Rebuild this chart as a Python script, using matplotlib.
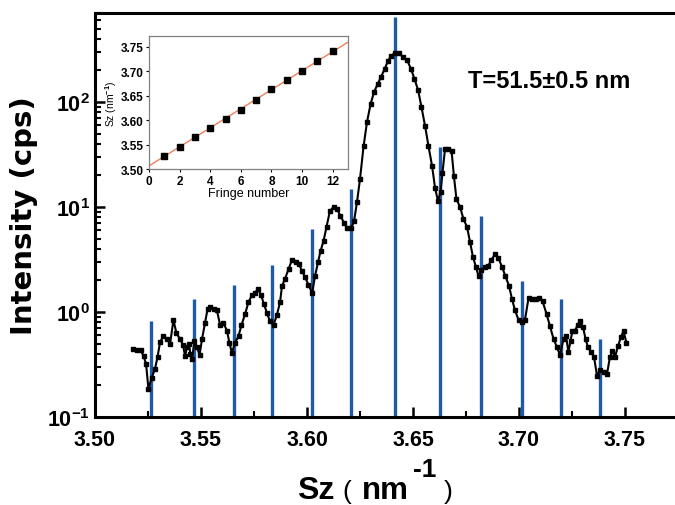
import numpy as np
import matplotlib
matplotlib.use("Agg")
import matplotlib.pyplot as plt
from matplotlib.ticker import MultipleLocator, FuncFormatter, LogLocator, NullFormatter


# measured scan (Sz in nm^-1, intensity in cps)
sz = [3.5179, 3.5198, 3.5215, 3.5229, 3.5241, 3.5252, 3.5267, 3.5283, 3.5295, 3.5307,
      3.5323, 3.5340, 3.5354, 3.5370, 3.5384, 3.5401, 3.5415, 3.5425, 3.5434, 3.5443,
      3.5450, 3.5458, 3.5469, 3.5481, 3.5493, 3.5505, 3.5519, 3.5531, 3.5542, 3.5559,
      3.5575, 3.5590, 3.5606, 3.5623, 3.5634, 3.5646, 3.5660, 3.5677, 3.5691, 3.5708,
      3.5724, 3.5741, 3.5755, 3.5769, 3.5783, 3.5797, 3.5811, 3.5825, 3.5842, 3.5858,
      3.5873, 3.5882, 3.5896, 3.5913, 3.5929, 3.5946, 3.5962, 3.5976, 3.5991, 3.6007,
      3.6024, 3.6038, 3.6052, 3.6064, 3.6078, 3.6092, 3.6108, 3.6125, 3.6142, 3.6158,
      3.6175, 3.6191, 3.6208, 3.6222, 3.6236, 3.6250, 3.6267, 3.6283, 3.6300, 3.6316,
      3.6333, 3.6349, 3.6366, 3.6382, 3.6396, 3.6415, 3.6434, 3.6453, 3.6472, 3.6491,
      3.6507, 3.6524, 3.6540, 3.6557, 3.6573, 3.6590, 3.6604, 3.6618, 3.6630, 3.6639,
      3.6651, 3.6667, 3.6682, 3.6693, 3.6705, 3.6722, 3.6738, 3.6755, 3.6769, 3.6783,
      3.6797, 3.6809, 3.6823, 3.6840, 3.6854, 3.6870, 3.6887, 3.6903, 3.6920, 3.6936,
      3.6953, 3.6967, 3.6981, 3.6998, 3.7014, 3.7028, 3.7045, 3.7061, 3.7078, 3.7094,
      3.7111, 3.7130, 3.7146, 3.7163, 3.7179, 3.7193, 3.7210, 3.7222, 3.7233, 3.7243,
      3.7252, 3.7264, 3.7276, 3.7288, 3.7302, 3.7314, 3.7325, 3.7340, 3.7354, 3.7368,
      3.7382, 3.7399, 3.7415, 3.7429, 3.7441, 3.7453, 3.7467, 3.7481, 3.7493, 3.7507]

intensity = [0.440, 0.435, 0.435, 0.381, 0.320, 0.185, 0.235, 0.287, 0.373, 0.518,
             0.591, 0.553, 0.496, 0.839, 0.631, 0.553, 0.485, 0.381, 0.464, 0.496,
             0.398, 0.357, 0.530, 0.464, 0.389, 0.553, 0.786, 1.07, 1.12, 1.07,
             1.04, 0.752, 0.786, 0.659, 0.507, 0.407, 0.507, 0.591, 0.752, 0.957,
             1.245, 1.45, 1.52, 1.66, 1.45, 1.19, 0.978, 0.821, 0.752, 0.936,
             1.245, 1.77, 2.06, 2.57, 3.13, 2.99, 2.87, 2.46, 2.15, 1.81,
             1.52, 2.20, 2.99, 3.81, 4.75, 6.45, 9.16, 10.0, 9.57, 8.21,
             7.04, 6.31, 6.31, 7.36, 11.2, 18.5, 38.1, 64.5, 95.7, 124,
             148, 173, 206, 246, 274, 293, 293, 268, 251, 206,
             166, 130, 89.6, 59.1, 38.1, 24.6, 15.2, 11.4, 13.9, 21.1,
             35.7, 35.7, 34.1, 19.7, 11.9, 10.0, 7.69, 6.45, 4.64, 3.34,
             2.68, 2.20, 2.51, 2.68, 2.74, 3.13, 3.57, 3.27, 2.68, 2.20,
             1.77, 1.33, 1.04, 0.839, 0.803, 0.839, 1.36, 1.33, 1.33, 1.36,
             1.27, 0.957, 0.736, 0.553, 0.464, 0.389, 0.553, 0.591, 0.416, 0.530,
             0.659, 0.659, 0.752, 0.821, 0.720, 0.553, 0.464, 0.416, 0.373, 0.246,
             0.280, 0.268, 0.257, 0.373, 0.425, 0.373, 0.474, 0.578, 0.659, 0.507]

# fringe positions (blue sticks)
peak_sz = [3.5264, 3.5467, 3.5656, 3.5835, 3.6024, 3.6208,
           3.6415, 3.6627, 3.6821, 3.7014, 3.7198, 3.7382]
peak_height = [0.83, 1.33, 1.81, 2.8, 6.2, 14.8, 645, 37.3, 8.2, 1.97, 1.33, 0.55]

# inset: fringe number vs Sz
fringe_no = [1, 2, 3, 4, 5, 6, 7, 8, 9, 10, 11, 12]
fringe_sz = [3.527, 3.546, 3.565, 3.584, 3.603, 3.621,
             3.642, 3.663, 3.681, 3.701, 3.721, 3.741]

W, H = 675, 506

plt.rcParams['font.family'] = ['Liberation Sans', 'DejaVu Sans']
plt.rcParams['font.weight'] = 'bold'
plt.rcParams['mathtext.fontset'] = 'custom'
plt.rcParams['mathtext.rm'] = 'Liberation Sans'
plt.rcParams['mathtext.it'] = 'Liberation Sans:italic'
plt.rcParams['mathtext.bf'] = 'Liberation Sans:bold'

fig = plt.figure(figsize=(W / 100, H / 100), dpi=100)
ax = fig.add_axes([95 / W, 1 - 418 / H, 0.31 * 2120 / W, 404 / H])

ax.plot(sz, intensity, '-s', color='black', lw=1.5, ms=3.2, zorder=3)
ax.vlines(peak_sz, 0.1, peak_height, color='#1f5aa8', lw=2.4, zorder=2)

ax.set_yscale('log')
ax.set_xlim(3.50, 3.81)
ax.set_ylim(0.1, 705)

ax.xaxis.set_major_locator(MultipleLocator(0.05))
ax.xaxis.set_minor_locator(MultipleLocator(0.025))
ax.xaxis.set_major_formatter(FuncFormatter(lambda v, p: f'{v:.2f}' if v < 3.76 else ''))
ax.yaxis.set_major_locator(LogLocator(base=10, numticks=10))
ax.yaxis.set_minor_locator(LogLocator(base=10, subs=np.arange(2, 10), numticks=10))
ax.yaxis.set_major_formatter(FuncFormatter(lambda v, p: r'$\mathbf{10^{%d}}$' % round(np.log10(v))))
ax.yaxis.set_minor_formatter(NullFormatter())

ax.tick_params(which='both', direction='in', top=False, right=False)
ax.tick_params(which='major', length=7, width=1.8, labelsize=15.5)
ax.tick_params(which='minor', length=4, width=1.5)
ax.tick_params(axis='x', which='major', pad=9)
ax.tick_params(axis='y', which='major', pad=3.5)
for s in ax.spines.values():
    s.set_linewidth(2.2)

# axis titles
fig.text(24 / W, 1 - 216 / H, 'Intensity (cps)', rotation=90, ha='center', va='center',
         fontsize=21, family='DejaVu Sans', fontweight='bold')
fig.text(297 / W, 1 - 499 / H, 'Sz', fontsize=23, fontweight='bold', va='baseline')
fig.text(342 / W, 1 - 499 / H, '(', fontsize=19, fontweight='normal', va='baseline')
fig.text(362 / W, 1 - 499 / H, 'nm', fontsize=22.5, fontweight='bold', va='baseline')
fig.text(413 / W, 1 - 477 / H, '-1', fontsize=19, fontweight='bold', va='baseline')
fig.text(444 / W, 1 - 499 / H, ')', fontsize=19, fontweight='normal', va='baseline')

fig.text(468 / W, 1 - 88 / H, 'T=51.5\u00b10.5 nm', fontsize=17, fontweight='bold', va='baseline')

# inset
axin = fig.add_axes([149 / W, 1 - 170 / H, 199 / W, 133 / H])
fit = np.polyfit(fringe_no, fringe_sz, 1)
xfit = np.array([0, 13])
axin.plot(xfit, np.polyval(fit, xfit), color='#ee7f5a', lw=1)
axin.plot(fringe_no, fringe_sz, 's', color='black', ms=3.8)
axin.set_xlim(0, 13)
axin.set_ylim(3.50, 3.772)
axin.xaxis.set_major_locator(MultipleLocator(2))
axin.yaxis.set_major_locator(MultipleLocator(0.05))
axin.yaxis.set_major_formatter(FuncFormatter(lambda v, p: f'{v:.2f}'))
axin.tick_params(which='major', direction='out', length=2.5, width=0.8, labelsize=8.5, pad=1.5)
for s in axin.spines.values():
    s.set_linewidth(0.9)
    s.set_color('#808080')
axin.set_xlabel('Fringe number', fontsize=9, labelpad=0)
axin.set_ylabel(r'Sz (nm$^{-1}$)', fontsize=7.5, fontweight='normal', labelpad=1)

fig.savefig('out.png', dpi=100)
